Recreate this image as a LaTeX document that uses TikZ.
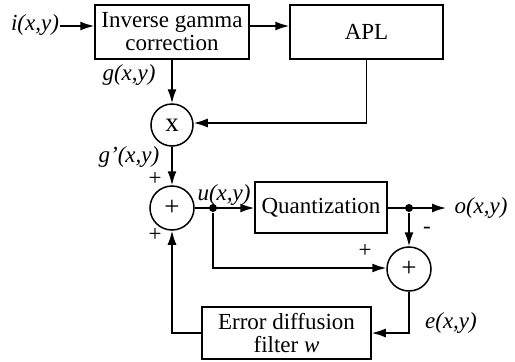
\documentclass[tikz,border=0pt]{standalone}
\usepackage{fontspec}
\setmainfont{Liberation Serif}
\usetikzlibrary{arrows.meta,calc}
\begin{document}
\begin{tikzpicture}[x=1pt,y=-1pt,
  line width=1.5pt,
  font=\fontsize{23}{23}\selectfont,
  arr/.style={-{Latex[length=14pt,width=9pt]}},
  blk/.style={draw,rectangle,inner sep=0pt,align=center},
  sumc/.style={draw,circle,minimum size=44pt,inner sep=0pt,font=\fontsize{27}{27}\selectfont},
  dot/.style={circle,fill,inner sep=0pt,minimum size=8pt},
  lbl/.style={inner sep=0pt}]
\useasboundingbox (0,0) rectangle (515,362);
% blocks
\node[blk,minimum width=154pt,minimum height=54pt] (inv) at (172,32) {Inverse gamma\\correction};
\node[blk,minimum width=153pt,minimum height=54pt] (apl) at (366.5,32) {APL};
\node[blk,minimum width=132pt,minimum height=51pt] (quant) at (321,207.5) {Quantization};
\node[blk,minimum width=169pt,minimum height=52pt] (filt) at (286.5,333) {Error diffusion\\filter \textit{w}};
% circles
\node[sumc,minimum size=42pt] (mul) at (172,125) {x};
\node[sumc] (s1) at (172,208) {+};
\node[sumc] (s2) at (409,269) {+};
% dots
\node[dot] (d1) at (213,208) {};
\node[dot] (d2) at (409,208) {};
% coordinates
\coordinate (rowa) at (0,26);
\coordinate (rowb) at (0,123);
\coordinate (rowc) at (0,268);
\coordinate (rowd) at (0,333);
\coordinate (oend) at (446,208);
% labels
\node[lbl] (il) at (35,25) {\textit{i(x,y)}};
\node[lbl] (gl) at (129,75) {\textit{g(x,y)}};
\node[lbl] (gpl) at (129,157) {\textit{g’(x,y)}};
\node[lbl] (ul) at (224,195) {\textit{u(x,y)}};
\node[lbl] (ol) at (481,208) {\textit{o(x,y)}};
\node[lbl] (el) at (451,323) {\textit{e(x,y)}};
\node[lbl] (p1) at (155,179) {+};
\node[lbl] (p2) at (155,235) {+};
\node[lbl] (p3) at (365,251) {+};
\node[lbl] (m1) at (427,230) {-};
% connectors
\draw[arr] (il.east |- rowa) -- (inv.west |- rowa);
\draw[arr] (inv.east |- rowa) -- (apl.west |- rowa);
\draw[arr] (inv.south) -- (mul.north);
\draw[arr] (apl.south) -- (apl.south |- rowb) -- (mul.east |- rowb);
\draw[arr] (mul.south) -- (s1.north);
\draw[arr] (s1.east) -- (quant.west |- s1.east);
\draw[arr] (quant.east |- d2) -- (oend);
\draw[arr] (d2) -- (s2.north);
\draw[arr] (d1) -- (d1 |- rowc) -- (s2.west |- rowc);
\draw[arr] (s2.south) -- (s2.south |- rowd) -- (filt.east |- rowd);
\draw[arr] (filt.west |- rowd) -- (s1.south |- rowd) -- (s1.south);
\end{tikzpicture}
\end{document}
